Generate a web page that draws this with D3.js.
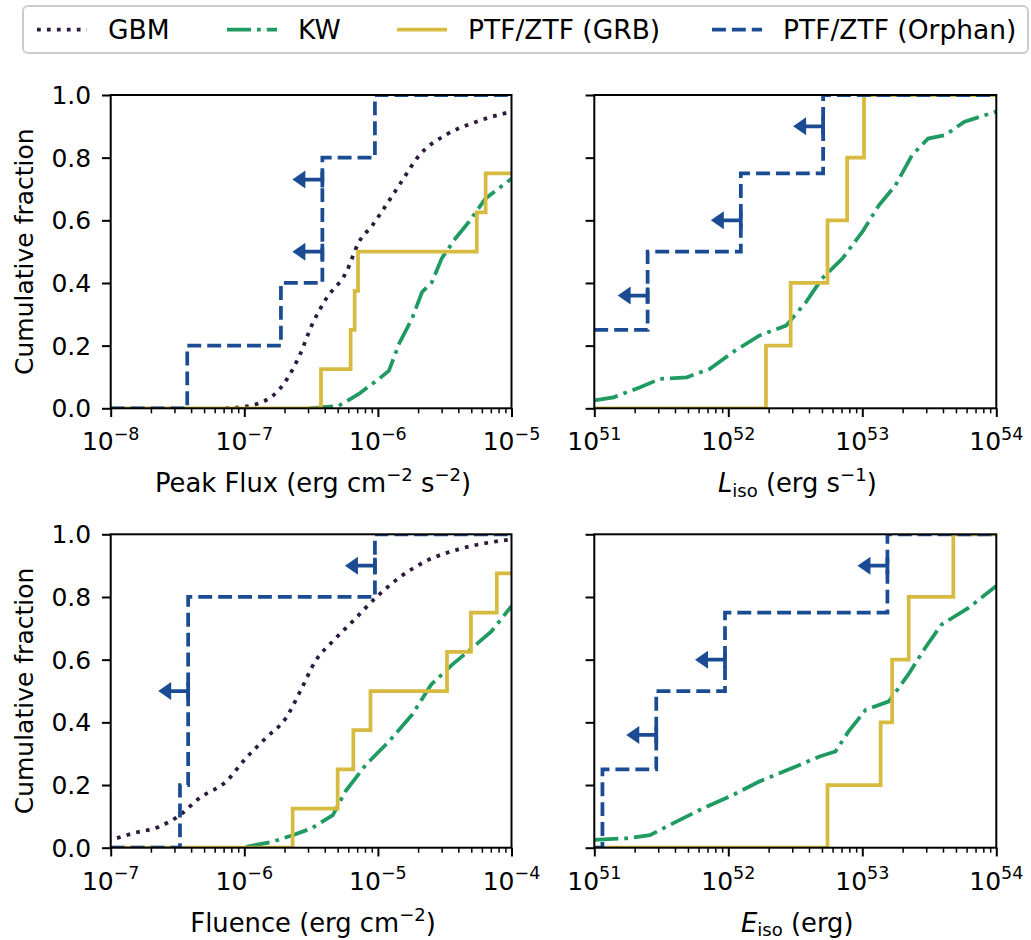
<!DOCTYPE html>
<html><head><meta charset="utf-8">
<script src="https://cdn.jsdelivr.net/npm/d3@7"></script>
<style>body{margin:0;background:#fff} text{font-family:"DejaVu Sans",sans-serif;fill:#000}</style>
</head><body><svg id="c" width="1031" height="940"></svg>
<script>
// ---------------- DATA ----------------
const legendLabels = ["GBM", "KW", "PTF/ZTF (GRB)", "PTF/ZTF (Orphan)"];
const yTicks = [0, 0.2, 0.4, 0.6, 0.8, 1.0];
const yTickLabels = ["0.0", "0.2", "0.4", "0.6", "0.8", "1.0"];
const xExpPeak = [-8, -7, -6, -5];
const xExpLiso = [51, 52, 53, 54];
const xExpFluence = [-7, -6, -5, -4];
const xExpEiso = [51, 52, 53, 54];

// GBM cumulative curves (peak flux, fluence)
const gbmPeakX = [7.2e-8, 1.1e-7, 1.8e-7, 2.6e-7, 3.2e-7, 4.1e-7, 5.8e-7, 7.2e-7, 9.1e-7, 1.15e-6, 1.5e-6, 2.0e-6, 3.2e-6, 5.0e-6, 1.0e-5];
const gbmPeakY = [0.0, 0.008, 0.057, 0.17, 0.265, 0.35, 0.435, 0.53, 0.584, 0.648, 0.723, 0.803, 0.872, 0.909, 0.947];
const gbmFluenceX = [8e-8, 1.0e-7, 1.47e-7, 2.3e-7, 3.3e-7, 4.6e-7, 7.3e-7, 1.03e-6, 1.45e-6, 2.05e-6, 2.7e-6, 3.4e-6, 4.6e-6, 6.5e-6, 9.6e-6, 1.44e-5, 2.3e-5, 4.0e-5, 1.0e-4];
const gbmFluenceY = [0.015, 0.025, 0.046, 0.067, 0.104, 0.158, 0.211, 0.286, 0.35, 0.414, 0.51, 0.595, 0.659, 0.723, 0.797, 0.861, 0.915, 0.952, 0.984];

// KW cumulative curves
const kwPeakX = [3.05e-7, 5.1e-7, 7.2e-7, 1.02e-6, 1.21e-6, 1.44e-6, 1.8e-6, 2.14e-6, 2.54e-6, 3.0e-6, 3.8e-6, 4.8e-6, 6.4e-6, 1.0e-5];
const kwPeakY = [0.0, 0.008, 0.046, 0.094, 0.12, 0.206, 0.286, 0.371, 0.403, 0.478, 0.542, 0.595, 0.67, 0.733];
const kwLisoX = [1.0e51, 1.39e51, 2.2e51, 3.1e51, 4.9e51, 7.3e51, 1.08e52, 1.7e52, 2.7e52, 3.8e52, 5.0e52, 7.1e52, 1.0e53, 1.33e53, 1.77e53, 2.35e53, 3.1e53, 4.15e53, 5.8e53, 1.0e54];
const kwLisoY = [0.025, 0.035, 0.067, 0.094, 0.099, 0.126, 0.179, 0.232, 0.264, 0.339, 0.414, 0.478, 0.563, 0.648, 0.712, 0.808, 0.861, 0.872, 0.915, 0.947];
const kwFluenceX = [1.03e-6, 1.63e-6, 2.3e-6, 3.2e-6, 4.6e-6, 5.7e-6, 8.1e-6, 1.21e-5, 1.8e-5, 2.5e-5, 3.6e-5, 5.1e-5, 7.1e-5, 1.0e-4];
const kwFluenceY = [0.003, 0.019, 0.04, 0.062, 0.104, 0.179, 0.264, 0.339, 0.424, 0.52, 0.584, 0.638, 0.691, 0.771];
const kwEisoX = [1.0e51, 1.75e51, 2.6e51, 4.1e51, 6.5e51, 1.08e52, 1.7e52, 3.0e52, 4.8e52, 6.3e52, 7.9e52, 1.06e53, 1.58e53, 2.2e53, 2.95e53, 3.9e53, 6.2e53, 1.0e54];
const kwEisoY = [0.025, 0.03, 0.04, 0.083, 0.126, 0.168, 0.211, 0.254, 0.291, 0.307, 0.371, 0.44, 0.467, 0.552, 0.638, 0.712, 0.765, 0.835];

// PTF/ZTF GRB afterglows (values inside the axis range; N = sample size)
const grbPeak = [3.75e-7, 6.25e-7, 6.7e-7, 7.1e-7, 5.5e-6, 6.4e-6];
const grbPeakN = 8;
const grbLiso = [1.91e52, 2.92e52, 5.5e52, 7.7e52, 1.03e53];
const grbLisoN = 5;
const grbFluence = [2.3e-6, 5.0e-6, 6.55e-6, 8.8e-6, 3.29e-5, 4.97e-5, 7.77e-5];
const grbFluenceN = 8;
const grbEiso = [5.5e52, 1.37e53, 1.67e53, 2.22e53, 4.78e53];
const grbEisoN = 5;

// PTF/ZTF orphans (upper limits marked by arrows)
const orphanPeak = [3.74e-8, 1.88e-7, 3.84e-7, 3.84e-7, 9.5e-7];
const orphanLiso = [8e50, 2.5e51, 1.24e52, 5.1e52];
const orphanFluence = [3.3e-7, 3.8e-7, 3.8e-7, 3.8e-7, 9.5e-6];
const orphanEiso = [1.15e51, 2.9e51, 9.45e51, 1.54e53];
const arrowPeakX = [3.84e-7, 3.84e-7];
const arrowPeakY = [0.50, 0.73];
const arrowLisoX = [2.5e51, 1.24e52, 5.1e52];
const arrowLisoY = [0.36, 0.60, 0.90];
const arrowFluenceX = [3.8e-7, 9.5e-6];
const arrowFluenceY = [0.50, 0.90];
const arrowEisoX = [2.9e51, 9.45e51, 1.54e53];
const arrowEisoY = [0.36, 0.60, 0.90];

// ---------------- STYLE ----------------
const colors = {gbm: "#2d1a3c", kw: "#1f9a60", grb: "#d6bb40", orphan: "#1b4c93"};
const LW = 3.75;
const dashes = {gbm: "3.75,6.2", kw: "24,6,3.75,6", grb: null, orphan: "13.9,6"};
const FS = 25;
const LFS = 26.5;

const svg = d3.select("#c");

const panels = [
  {key: "peak", x0: 110.7, x1: 511.5, y0: 95, y1: 408.3, exps: xExpPeak, ylab: true,
   label: [["Peak Flux (erg cm", ""], ["−2", "sup"], [" s", ""], ["−2", "sup"], [")", ""]],
   gbm: [gbmPeakX, gbmPeakY], kw: [kwPeakX, kwPeakY], grb: [grbPeak, grbPeakN], orph: orphanPeak, arr: [arrowPeakX, arrowPeakY]},
  {key: "liso", x0: 594.3, x1: 996.3, y0: 95, y1: 408.3, exps: xExpLiso, ylab: false,
   label: [["L", "it"], ["iso", "sub"], [" (erg s", ""], ["−1", "sup"], [")", ""]],
   gbm: null, kw: [kwLisoX, kwLisoY], grb: [grbLiso, grbLisoN], orph: orphanLiso, arr: [arrowLisoX, arrowLisoY]},
  {key: "fluence", x0: 110.7, x1: 511.5, y0: 534.3, y1: 847.7, exps: xExpFluence, ylab: true,
   label: [["Fluence (erg cm", ""], ["−2", "sup"], [")", ""]],
   gbm: [gbmFluenceX, gbmFluenceY], kw: [kwFluenceX, kwFluenceY], grb: [grbFluence, grbFluenceN], orph: orphanFluence, arr: [arrowFluenceX, arrowFluenceY]},
  {key: "eiso", x0: 594.3, x1: 996.3, y0: 534.3, y1: 847.7, exps: xExpEiso, ylab: false,
   label: [["E", "it"], ["iso", "sub"], [" (erg)", ""]],
   gbm: null, kw: [kwEisoX, kwEisoY], grb: [grbEiso, grbEisoN], orph: orphanEiso, arr: [arrowEisoX, arrowEisoY]}
];

function ecdf(values, n, dom) {
  const v = values.slice().sort((a, b) => a - b);
  let c = v.filter(d => d < dom[0]).length;
  const pts = [[dom[0], c / n]];
  v.filter(d => d >= dom[0]).forEach(d => { c++; pts.push([d, c / n]); });
  pts.push([dom[1], c / n]);
  return pts;
}

function richText(sel, parts, size) {
  let shift = 0;
  parts.forEach(([t, kind]) => {
    const ts = sel.append("tspan").text(t);
    let target = 0, fs = size;
    if (kind === "sup") { target = -0.42 * size; fs = 0.7 * size; }
    if (kind === "sub") { target = 0.18 * size; fs = 0.7 * size; }
    if (kind === "it") ts.attr("font-style", "italic");
    ts.attr("font-size", fs).attr("dy", target - shift);
    shift = target;
  });
}

panels.forEach((p, i) => {
  const dom = [Math.pow(10, p.exps[0]), Math.pow(10, p.exps[p.exps.length - 1])];
  const x = d3.scaleLog().domain(dom).range([p.x0, p.x1]);
  const y = d3.scaleLinear().domain([0, 1]).range([p.y1, p.y0]);
  const g = svg.append("g");
  const clipId = "clip" + i;
  svg.append("clipPath").attr("id", clipId).append("rect")
    .attr("x", p.x0).attr("y", p.y0).attr("width", p.x1 - p.x0).attr("height", p.y1 - p.y0);
  const plot = g.append("g").attr("clip-path", `url(#${clipId})`);

  const smooth = d3.line().x(d => x(d[0])).y(d => y(d[1])).curve(d3.curveMonotoneX);
  const rough = d3.line().x(d => x(d[0])).y(d => y(d[1])).curve(d3.curveLinear);
  const step = d3.line().x(d => x(d[0])).y(d => y(d[1])).curve(d3.curveStepAfter);

  function draw(path, key) {
    const el = plot.append("path").attr("d", path).attr("fill", "none")
      .attr("stroke", colors[key]).attr("stroke-width", LW).attr("stroke-linejoin", "miter");
    if (dashes[key]) el.attr("stroke-dasharray", dashes[key]);
  }
  if (p.gbm) draw(smooth(d3.zip(p.gbm[0], p.gbm[1])), "gbm");
  draw(rough(d3.zip(p.kw[0], p.kw[1])), "kw");
  draw(step(ecdf(p.grb[0], p.grb[1], dom)), "grb");
  draw(step(ecdf(p.orph, p.orph.length, dom)), "orphan");

  // upper-limit arrows
  d3.zip(p.arr[0], p.arr[1]).forEach(([ax, ay]) => {
    const px = x(ax), py = y(ay);
    plot.append("line").attr("x1", px).attr("x2", px - 18).attr("y1", py).attr("y2", py)
      .attr("stroke", colors.orphan).attr("stroke-width", LW);
    plot.append("line").attr("x1", px).attr("x2", px).attr("y1", py - 8).attr("y2", py + 8)
      .attr("stroke", colors.orphan).attr("stroke-width", LW);
    plot.append("path").attr("d", `M${px - 30},${py} L${px - 17},${py - 9} L${px - 17},${py + 9} Z`)
      .attr("fill", colors.orphan);
  });

  // axes
  const majors = p.exps.map(e => Math.pow(10, e));
  const minors = [];
  for (let k = 0; k < p.exps.length - 1; k++) for (let m = 2; m <= 9; m++) minors.push(m * Math.pow(10, p.exps[k]));
  const ax1 = g.append("g").attr("transform", `translate(0,${p.y1})`)
    .call(d3.axisBottom(x).tickValues(majors).tickSize(8.75).tickFormat(""));
  const ax2 = g.append("g").attr("transform", `translate(0,${p.y1})`)
    .call(d3.axisBottom(x).tickValues(minors).tickSize(5).tickFormat(""));
  const ay1 = g.append("g").attr("transform", `translate(${p.x0},0)`)
    .call(d3.axisLeft(y).tickValues(yTicks).tickSize(8.75).tickFormat(""));
  [ax1, ax2, ay1].forEach(a => { a.select(".domain").remove(); a.selectAll("line").attr("stroke", "#000").attr("stroke-width", 2); });
  ax2.selectAll("line").attr("stroke-width", 1.5);

  g.append("rect").attr("x", p.x0).attr("y", p.y0).attr("width", p.x1 - p.x0).attr("height", p.y1 - p.y0)
    .attr("fill", "none").attr("stroke", "#000").attr("stroke-width", 2);

  // x tick labels
  p.exps.forEach(e => {
    const t = g.append("text").attr("x", x(Math.pow(10, e))).attr("y", p.y1 + 42)
      .attr("text-anchor", "middle").attr("font-size", FS);
    richText(t, [["10", ""], [(e < 0 ? "−" : "") + Math.abs(e), "sup"]], FS);
  });
  if (p.ylab) {
    yTicks.forEach((v, j) => {
      g.append("text").attr("x", p.x0 - 19.5).attr("y", y(v) + 9).attr("text-anchor", "end")
        .attr("font-size", FS).text(yTickLabels[j]);
    });
    g.append("text").attr("transform", `translate(33,${(p.y0 + p.y1) / 2}) rotate(-90)`)
      .attr("text-anchor", "middle").attr("font-size", FS).text("Cumulative fraction");
  }
  const xl = g.append("text").attr("x", (p.x0 + p.x1) / 2 + 2).attr("y", p.y1 + 84)
    .attr("text-anchor", "middle").attr("font-size", 25.8);
  richText(xl, p.label, 25.8);
});

// ---------------- LEGEND ----------------
const lg = svg.append("g");
lg.append("rect").attr("x", 23).attr("y", 6).attr("width", 1005).attr("height", 47).attr("rx", 5)
  .attr("fill", "#fff").attr("stroke", "#cccccc").attr("stroke-width", 2);
const legKeys = ["gbm", "kw", "grb", "orphan"];
const legTextX = [108, 298, 468, 783];
legKeys.forEach((k, i) => {
  const hx = legTextX[i] - 21;
  const l = lg.append("line").attr("x1", hx - 50).attr("x2", hx).attr("y1", 29.5).attr("y2", 29.5)
    .attr("stroke", colors[k]).attr("stroke-width", LW);
  if (dashes[k]) l.attr("stroke-dasharray", dashes[k]);
  lg.append("text").attr("x", legTextX[i]).attr("y", 39).attr("font-size", LFS).text(legendLabels[i]);
});
</script></body></html>
